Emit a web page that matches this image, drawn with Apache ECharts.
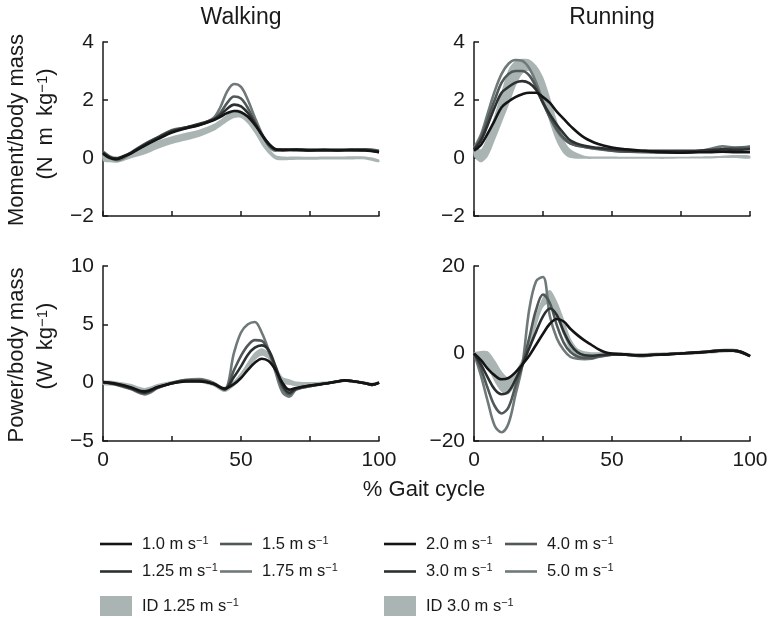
<!DOCTYPE html>
<html><head><meta charset="utf-8">
<script src="https://cdn.jsdelivr.net/npm/echarts@6/dist/echarts.min.js"></script>
<style>html,body{margin:0;padding:0;background:#fff}#c{width:771px;height:618px}</style>
</head><body><div id="c"></div><script>
// ---------- data ----------
const WALK_SPEEDS = ['1.0', '1.25', '1.5', '1.75'];
const RUN_SPEEDS = ['2.0', '3.0', '4.0', '5.0'];
const WALK_ID = 'ID 1.25';
const RUN_ID = 'ID 3.0';
const PANEL_TITLES = ['Walking', 'Running'];
const X_TICKS = [0, 50, 100];

// Walking moment (N m kg-1)
const WM_X = [0, 2.5, 5, 7.5, 10, 15, 20, 25, 30, 35, 40, 42.5, 45, 47.5, 50, 52.5, 55, 57.5, 60, 62.5, 65, 70, 75, 80, 85, 90, 95, 100];
const WM_10 = [0.15, 0.0, -0.04, 0.05, 0.15, 0.42, 0.66, 0.88, 1.02, 1.14, 1.3, 1.42, 1.55, 1.62, 1.58, 1.42, 1.15, 0.82, 0.5, 0.3, 0.27, 0.28, 0.26, 0.27, 0.26, 0.27, 0.26, 0.2];
const WM_125 = [0.18, 0.02, -0.02, 0.07, 0.17, 0.45, 0.7, 0.92, 1.05, 1.18, 1.33, 1.48, 1.7, 1.84, 1.78, 1.55, 1.2, 0.8, 0.48, 0.3, 0.27, 0.28, 0.27, 0.27, 0.27, 0.28, 0.27, 0.22];
const WM_15 = [0.2, 0.03, -0.03, 0.05, 0.18, 0.48, 0.72, 0.95, 1.05, 1.15, 1.32, 1.55, 1.9, 2.12, 2.05, 1.72, 1.25, 0.8, 0.45, 0.28, 0.3, 0.3, 0.28, 0.28, 0.28, 0.28, 0.3, 0.25];
const WM_175 = [0.22, 0.05, -0.08, 0.0, 0.15, 0.45, 0.72, 0.97, 1.05, 1.15, 1.38, 1.75, 2.3, 2.55, 2.45, 2.0, 1.4, 0.85, 0.42, 0.25, 0.3, 0.28, 0.27, 0.28, 0.27, 0.28, 0.29, 0.2];
const WM_ID_LO = [-0.1, -0.15, -0.16, -0.1, -0.02, 0.12, 0.32, 0.48, 0.6, 0.73, 0.93, 1.08, 1.25, 1.38, 1.38, 1.18, 0.85, 0.45, 0.15, -0.05, -0.08, -0.06, -0.06, -0.05, -0.05, -0.05, -0.05, -0.15];
const WM_ID_HI = [0.2, 0.1, 0.05, 0.1, 0.2, 0.4, 0.6, 0.75, 0.87, 0.98, 1.17, 1.32, 1.5, 1.66, 1.64, 1.45, 1.1, 0.7, 0.35, 0.1, 0.05, 0.05, 0.04, 0.05, 0.05, 0.06, 0.05, -0.05];

// Walking power (W kg-1)
const WP_X = [0, 5, 10, 15, 20, 25, 30, 35, 40, 44, 47.5, 50, 52.5, 55, 57.5, 60, 62.5, 65, 67.5, 70, 75, 80, 85, 87.5, 90, 95, 97.5, 100];
const WP_10 = [0.05, -0.1, -0.4, -0.75, -0.35, -0.05, 0.1, 0.1, -0.1, -0.5, -0.1, 0.4, 1.1, 1.7, 2.05, 1.85, 1.1, 0.0, -0.6, -0.45, -0.25, -0.1, 0.1, 0.2, 0.15, -0.05, -0.15, 0.0];
const WP_125 = [0.05, -0.15, -0.45, -0.85, -0.4, -0.05, 0.15, 0.15, -0.1, -0.55, 0.5, 1.4, 2.4, 3.0, 3.2, 2.8, 1.4, -0.2, -0.85, -0.5, -0.25, -0.1, 0.1, 0.2, 0.15, -0.05, -0.2, 0.0];
const WP_15 = [0.05, -0.15, -0.5, -0.9, -0.4, -0.05, 0.2, 0.2, -0.1, -0.6, 1.1, 2.3, 3.2, 3.65, 3.6, 2.7, 1.2, -0.4, -1.0, -0.55, -0.3, -0.1, 0.1, 0.2, 0.15, -0.05, -0.2, 0.0];
const WP_175 = [0.05, -0.2, -0.55, -1.0, -0.45, 0.0, 0.25, 0.3, 0.0, -0.55, 2.6, 4.3, 5.0, 5.2, 4.3, 2.8, 0.9, -0.8, -1.2, -0.6, -0.3, -0.1, 0.1, 0.2, 0.15, -0.05, -0.2, 0.0];
const WP_ID_LO = [-0.2, -0.3, -0.55, -0.9, -0.5, -0.15, 0.0, 0.0, -0.3, -0.8, -0.3, 0.3, 1.1, 1.9, 2.3, 2.0, 1.0, -0.1, -0.2, -0.3, -0.25, -0.15, -0.05, 0.05, 0.0, -0.15, -0.25, -0.1];
const WP_ID_HI = [0.15, 0.1, -0.1, -0.45, -0.1, 0.15, 0.3, 0.3, 0.05, -0.35, 0.2, 0.9, 1.8, 2.6, 2.95, 2.6, 1.6, 0.5, 0.3, 0.1, 0.05, 0.1, 0.2, 0.3, 0.25, 0.1, 0.0, 0.1];

// Running moment (N m kg-1)
const RM_X = [0, 2.5, 5, 7.5, 10, 12.5, 15, 17.5, 20, 22.5, 25, 27.5, 30, 32.5, 35, 40, 45, 50, 55, 60, 65, 70, 75, 80, 85, 90, 95, 100];
const RM_20 = [0.25, 0.45, 0.85, 1.3, 1.75, 1.95, 2.1, 2.2, 2.25, 2.25, 2.1, 1.9, 1.6, 1.35, 1.1, 0.7, 0.48, 0.36, 0.3, 0.26, 0.22, 0.2, 0.18, 0.2, 0.2, 0.22, 0.2, 0.2];
const RM_30 = [0.3, 0.6, 1.15, 1.75, 2.25, 2.45, 2.6, 2.65, 2.58, 2.35, 1.9, 1.5, 1.15, 0.85, 0.6, 0.42, 0.35, 0.3, 0.27, 0.25, 0.25, 0.25, 0.25, 0.25, 0.27, 0.3, 0.28, 0.3];
const RM_40 = [0.3, 0.7, 1.35, 2.0, 2.6, 2.9, 3.0, 3.0, 2.85, 2.45, 1.9, 1.4, 1.0, 0.7, 0.5, 0.38, 0.32, 0.25, 0.22, 0.22, 0.2, 0.18, 0.18, 0.2, 0.25, 0.3, 0.35, 0.35];
const RM_50 = [0.35, 0.8, 1.55, 2.3, 2.9, 3.25, 3.38, 3.35, 3.1, 2.6, 1.95, 1.4, 0.95, 0.65, 0.5, 0.38, 0.3, 0.25, 0.22, 0.2, 0.2, 0.18, 0.2, 0.22, 0.3, 0.4, 0.35, 0.4];
const RM_ID_LO = [0.05, -0.15, 0.05, 0.6, 1.2, 1.8, 2.45, 2.9, 3.0, 2.6, 2.0, 1.2, 0.55, 0.15, 0.0, -0.03, -0.03, -0.03, -0.03, -0.03, -0.03, -0.03, -0.02, -0.02, -0.02, 0.0, 0.0, -0.02];
const RM_ID_HI = [0.4, 0.3, 0.8, 1.5, 2.3, 3.05, 3.35, 3.42, 3.4, 3.2, 2.8, 2.1, 1.3, 0.65, 0.3, 0.08, 0.05, 0.05, 0.04, 0.04, 0.04, 0.04, 0.04, 0.05, 0.06, 0.08, 0.1, 0.08];

// Running power (W kg-1)
const RP_X = [0, 2.5, 5, 7.5, 10, 12.5, 15, 17.5, 20, 22.5, 25, 27.5, 30, 32.5, 35, 37.5, 40, 42.5, 45, 47.5, 50, 55, 60, 65, 70, 75, 80, 85, 90, 95, 100];
const RP_20 = [0, -1.5, -3.5, -5.0, -5.9, -5.6, -4.3, -2.5, -0.5, 2.0, 4.5, 6.8, 7.9, 7.3, 5.6, 4.2, 3.0, 2.0, 1.0, 0.3, 0.0, -0.2, -0.4, -0.3, -0.2, 0.0, 0.2, 0.4, 0.7, 0.6, -0.6];
const RP_30 = [0, -2.5, -5.5, -8.2, -9.3, -8.7, -6.0, -2.7, 1.2, 5.0, 8.5, 10.3, 8.8, 5.0, 2.0, 0.3, -0.4, -0.5, -0.4, -0.3, -0.2, -0.3, -0.5, -0.3, -0.2, 0.0, 0.2, 0.4, 0.7, 0.6, -0.6];
const RP_40 = [0, -3.5, -8.0, -12.0, -13.7, -12.3, -7.5, -2.7, 3.5, 10.0, 13.5, 11.5, 6.5, 2.5, 0.3, -0.7, -1.0, -1.0, -0.7, -0.5, -0.3, -0.3, -0.5, -0.3, -0.2, 0.0, 0.2, 0.4, 0.7, 0.6, -0.6];
const RP_50 = [0, -5.0, -11.0, -16.5, -18.0, -16.0, -9.5, -2.7, 10.0, 16.5, 17.5, 8.5, 3.5, 0.8, -0.8, -1.2, -1.3, -1.2, -0.8, -0.5, -0.3, -0.3, -0.6, -0.4, -0.2, 0.0, 0.2, 0.4, 0.7, 0.6, -0.6];
const RP_ID_LO = [-0.3, -1.5, -3.5, -6.5, -8.8, -9.3, -7.0, -3.5, 1.0, 6.0, 10.5, 11.5, 8.0, 4.0, 0.5, -0.8, -1.0, -0.8, -0.5, -0.4, -0.4, -0.5, -0.6, -0.5, -0.4, -0.3, -0.2, 0.0, 0.2, 0.2, -0.8];
const RP_ID_HI = [0.3, 0.6, 0.5, -1.5, -4.0, -5.5, -4.0, -1.0, 4.0, 9.0, 13.0, 14.5, 12.0, 8.0, 3.5, 1.2, 0.5, 0.3, 0.3, 0.3, 0.3, 0.2, 0.1, 0.2, 0.3, 0.4, 0.6, 0.8, 1.1, 1.0, -0.3];

// y-axis ranges [min, max, interval]
const Y_MOMENT = [-2, 4, 2];
const Y_WPOWER = [-5, 10, 5];
const Y_RPOWER = [-20, 20, 20];

// ---------- style ----------
const FONT = "'Liberation Sans', Arial, Helvetica, sans-serif";
const COLORS = ['#141414', '#2c3030', '#505858', '#707979'];
const BAND = '#a9b4b3';
const AX = '#1a1a1a';
const SMOOTH = 0.35;

function pairs(X, Y) { return X.map((x, i) => [x, Y[i]]); }
function line(name, gi, X, Y, ci) {
  return { name, type: 'line', xAxisIndex: gi, yAxisIndex: gi, data: pairs(X, Y), smooth: SMOOTH,
    symbol: 'none', showSymbol: false, silent: true, z: 10 - ci,
    lineStyle: { color: COLORS[ci], width: 2.6 }, itemStyle: { color: COLORS[ci] } };
}
function band(name, gi, X, lo, hi) {
  const data = X.map((x, i) => [x, lo[i], hi[i]]);
  return { name, type: 'custom', xAxisIndex: gi, yAxisIndex: gi, data, silent: true, z: 1,
    encode: { x: 0, y: [1, 2] }, itemStyle: { color: BAND },
    renderItem: (params, api) => {
      if (params.dataIndex !== 0) return;
      const up = data.map(d => api.coord([d[0], d[2]]));
      const dn = data.map(d => api.coord([d[0], d[1]])).reverse();
      return { type: 'polygon', shape: { points: up.concat(dn), smooth: 0.3 }, style: { fill: BAND } };
    } };
}

const GRIDS = [
  { left: 103, top: 42, width: 276, height: 174 },
  { left: 474, top: 42, width: 276, height: 174 },
  { left: 103, top: 266, width: 276, height: 175 },
  { left: 474, top: 266, width: 276, height: 175 }
];
const YR = [Y_MOMENT, Y_MOMENT, Y_WPOWER, Y_RPOWER];
const minus = v => String(v).replace('-', '\u2212');

const xAxes = GRIDS.map((g, i) => ({
  type: 'value', gridIndex: i, min: 0, max: 100, interval: 25,
  axisLine: { show: true, onZero: false, lineStyle: { color: AX, width: 1.5 } },
  axisTick: { show: true, inside: true, length: 5, lineStyle: { color: AX, width: 1.5 } },
  splitLine: { show: false },
  axisLabel: { show: i >= 2, margin: 9, color: '#1a1a1a', fontSize: 21, fontFamily: FONT,
    formatter: v => X_TICKS.includes(v) ? String(v) : '' }
}));
const yAxes = GRIDS.map((g, i) => ({
  type: 'value', gridIndex: i, min: YR[i][0], max: YR[i][1], interval: YR[i][2],
  axisLine: { show: true, onZero: false, lineStyle: { color: AX, width: 1.5 } },
  axisTick: { show: true, inside: true, length: 5, lineStyle: { color: AX, width: 1.5 } },
  splitLine: { show: false },
  axisLabel: { margin: 9, color: '#1a1a1a', fontSize: 21, fontFamily: FONT, formatter: minus }
}));

const series = [].concat(
  [band(WALK_ID, 0, WM_X, WM_ID_LO, WM_ID_HI), band(WALK_ID, 2, WP_X, WP_ID_LO, WP_ID_HI),
   band(RUN_ID, 1, RM_X, RM_ID_LO, RM_ID_HI), band(RUN_ID, 3, RP_X, RP_ID_LO, RP_ID_HI)],
  [WM_175, WM_15, WM_125, WM_10].map((d, k) => line(WALK_SPEEDS[3 - k], 0, WM_X, d, 3 - k)),
  [WP_175, WP_15, WP_125, WP_10].map((d, k) => line(WALK_SPEEDS[3 - k], 2, WP_X, d, 3 - k)),
  [RM_50, RM_40, RM_30, RM_20].map((d, k) => line(RUN_SPEEDS[3 - k], 1, RM_X, d, 3 - k)),
  [RP_50, RP_40, RP_30, RP_20].map((d, k) => line(RUN_SPEEDS[3 - k], 3, RP_X, d, 3 - k))
);

const legendRich = { t: { fontSize: 16.5, lineHeight: 18, fontFamily: FONT, color: '#1a1a1a', padding: [0, 0, 0, 5] },
                     s: { fontSize: 11, lineHeight: 18, fontFamily: FONT, color: '#1a1a1a', verticalAlign: 'top', padding: [0, 0, 5, 0] } };
function legend(names, colorIdx, left, top, isBand) {
  return {
    orient: 'vertical', left, top, padding: 0, itemGap: isBand ? 0 : 10,
    itemWidth: 32, itemHeight: isBand ? 20 : 2.6, selectedMode: false,
    data: names.map((n, k) => ({ name: n, icon: 'rect',
      itemStyle: { color: isBand ? BAND : COLORS[colorIdx + k], borderWidth: 0 } })),
    formatter: n => '{t|' + n + ' m s}{s|\u22121}',
    textStyle: { rich: legendRich, fontFamily: FONT }
  };
}
const legends = [
  legend(WALK_SPEEDS.slice(0, 2), 0, 100, 535, false),
  legend(WALK_SPEEDS.slice(2, 4), 2, 220, 535, false),
  legend([WALK_ID], 0, 100, 596, true),
  legend(RUN_SPEEDS.slice(0, 2), 0, 384, 535, false),
  legend(RUN_SPEEDS.slice(2, 4), 2, 505, 535, false),
  legend([RUN_ID], 0, 384, 596, true)
];

const txtRich = { a: { fontSize: 22, fontFamily: FONT, fill: '#1a1a1a', color: '#1a1a1a' },
                  s: { fontSize: 15, fontFamily: FONT, fill: '#1a1a1a', color: '#1a1a1a', verticalAlign: 'top' },
                  h: { fontSize: 23, fontFamily: FONT, fill: '#1a1a1a', color: '#1a1a1a' } };
function txt(text, x, y, rot) {
  return { type: 'text', x, y, rotation: rot || 0, silent: true,
    style: { text, rich: txtRich, fontSize: 22, fontFamily: FONT, fill: '#1a1a1a',
      align: 'center', verticalAlign: 'middle', textAlign: 'center', textVerticalAlign: 'middle' } };
}
const R = Math.PI / 2;
const SP = '\u2002';
const graphics = [
  txt('{h|' + PANEL_TITLES[0] + '}', 241, 18),
  txt('{h|' + PANEL_TITLES[1] + '}', 612, 18),
  txt('{a|Moment/body mass}', 17, 130, R),
  txt('{a|(N' + SP + 'm' + SP + 'kg}{s|\u22121}{a|)}', 46, 124, R),
  txt('{a|Power/body mass}', 17, 355, R),
  txt('{a|(W' + SP + 'kg}{s|\u22121}{a|)}', 46, 346, R),
  txt('{a|% Gait cycle}', 424, 490)
];

const chart = echarts.init(document.getElementById('c'), null, { renderer: 'canvas' });
chart.setOption({
  animation: false,
  backgroundColor: '#fff',
  grid: GRIDS,
  xAxis: xAxes,
  yAxis: yAxes,
  legend: legends,
  series,
  graphic: graphics
});
</script></body></html>
